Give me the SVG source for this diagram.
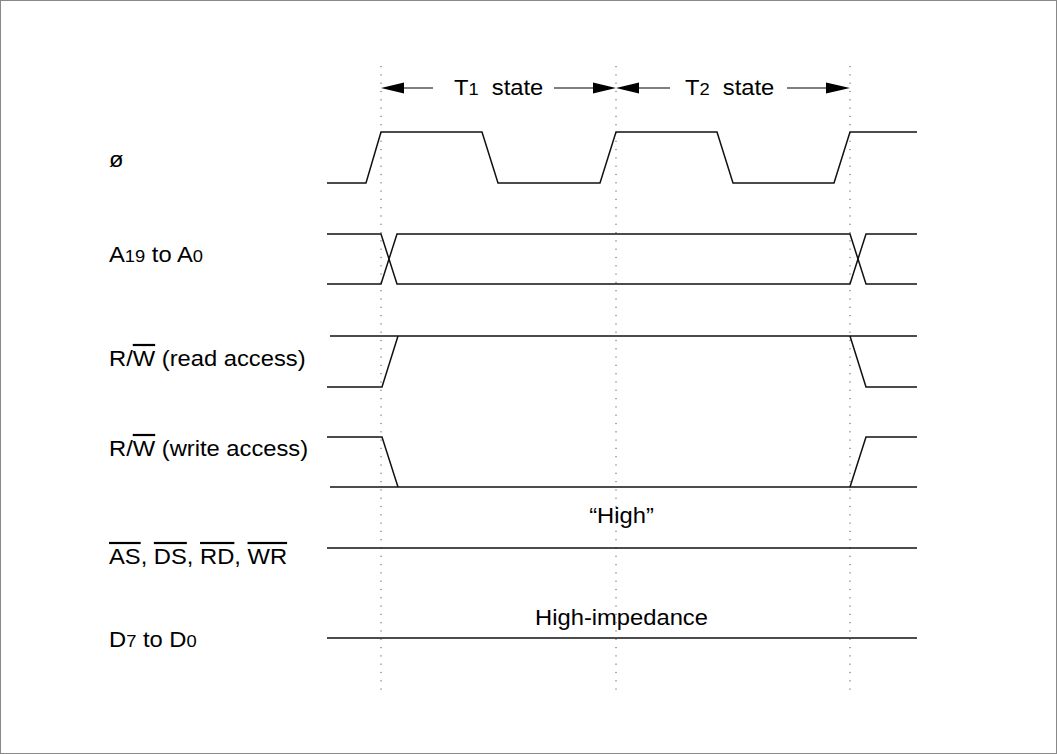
<svg xmlns="http://www.w3.org/2000/svg" width="1057" height="754" viewBox="0 0 1057 754">
<style>
text{font-family:"Liberation Sans",Arial,sans-serif;font-size:22px;fill:#000}
.sub{font-size:17px}
.ov{text-decoration:overline}
.sig{fill:none;stroke:#111;stroke-width:1.5;stroke-linejoin:miter}
.dot{stroke:#555;stroke-width:1;stroke-dasharray:1.2 7.1}
.dim{stroke:#555;stroke-width:1.5}
.ah{fill:#000}
</style>
<rect x="0.5" y="0.5" width="1056" height="753" fill="#fff" stroke="#888" stroke-width="1"/>
<g id="guides">
<line class="dot" x1="381" y1="66" x2="381" y2="690"/>
<line class="dot" x1="616" y1="66" x2="616" y2="690"/>
<line class="dot" x1="850" y1="66" x2="850" y2="690"/>
</g>
<g id="connectors">
<line class="dim" x1="402" y1="88" x2="433" y2="88"/>
<polygon class="ah" points="381,88 404,82.5 404,93.5"/>
<line class="dim" x1="554" y1="88" x2="595" y2="88"/>
<polygon class="ah" points="616,88 593,82.5 593,93.5"/>
<line class="dim" x1="636" y1="88" x2="670" y2="88"/>
<polygon class="ah" points="616,88 639,82.5 639,93.5"/>
<line class="dim" x1="787" y1="88" x2="828" y2="88"/>
<polygon class="ah" points="850,88 826,82.5 826,93.5"/>
</g>
<g id="t1-label"><text transform="translate(454,95) scale(1.08,1)">T<tspan class="sub">1</tspan><tspan dx="6"> state</tspan></text></g>
<g id="t2-label"><text transform="translate(685,95) scale(1.08,1)">T<tspan class="sub">2</tspan><tspan dx="6"> state</tspan></text></g>
<g id="clock">
<text transform="translate(109,167) scale(1.08,1)">ø</text>
<path class="sig" d="M327,183 H366 L381,132 H482 L498,183 H600 L616,132 H717 L733,183 H834 L850,132 H917"/>
</g>
<g id="address">
<text transform="translate(109,262) scale(1.08,1)">A<tspan class="sub">19</tspan> to A<tspan class="sub">0</tspan></text>
<path class="sig" d="M327,234 H381 L397,284 H850 L866,234 H917"/>
<path class="sig" d="M327,284 H381 L397,234 H850 L866,284 H917"/>
</g>
<g id="rw-read">
<text transform="translate(109,366) scale(1.08,1)">R/<tspan class="ov">W</tspan> (read access)</text>
<line class="sig" x1="330" y1="336" x2="917" y2="336"/>
<path class="sig" d="M327,387 H382 L398,336"/>
<path class="sig" d="M850,336 L866,387 H917"/>
</g>
<g id="rw-write">
<text transform="translate(109,456) scale(1.08,1)">R/<tspan class="ov">W</tspan> (write access)</text>
<line class="sig" x1="330" y1="487" x2="917" y2="487"/>
<path class="sig" d="M327,437 H382 L398,487"/>
<path class="sig" d="M850,487 L866,437 H917"/>
</g>
<g id="strobes">
<text transform="translate(109,564) scale(1.08,1)"><tspan class="ov">AS</tspan>, <tspan class="ov">DS</tspan>, <tspan class="ov">RD</tspan>, <tspan class="ov">WR</tspan></text>
<text transform="translate(621.5,523) scale(1.08,1)" text-anchor="middle">“High”</text>
<line class="sig" x1="327" y1="548" x2="917" y2="548"/>
</g>
<g id="data">
<text transform="translate(109,647) scale(1.08,1)">D<tspan class="sub">7</tspan> to D<tspan class="sub">0</tspan></text>
<text transform="translate(621.5,625) scale(1.08,1)" text-anchor="middle">High-impedance</text>
<line class="sig" x1="327" y1="638" x2="917" y2="638"/>
</g>
</svg>
